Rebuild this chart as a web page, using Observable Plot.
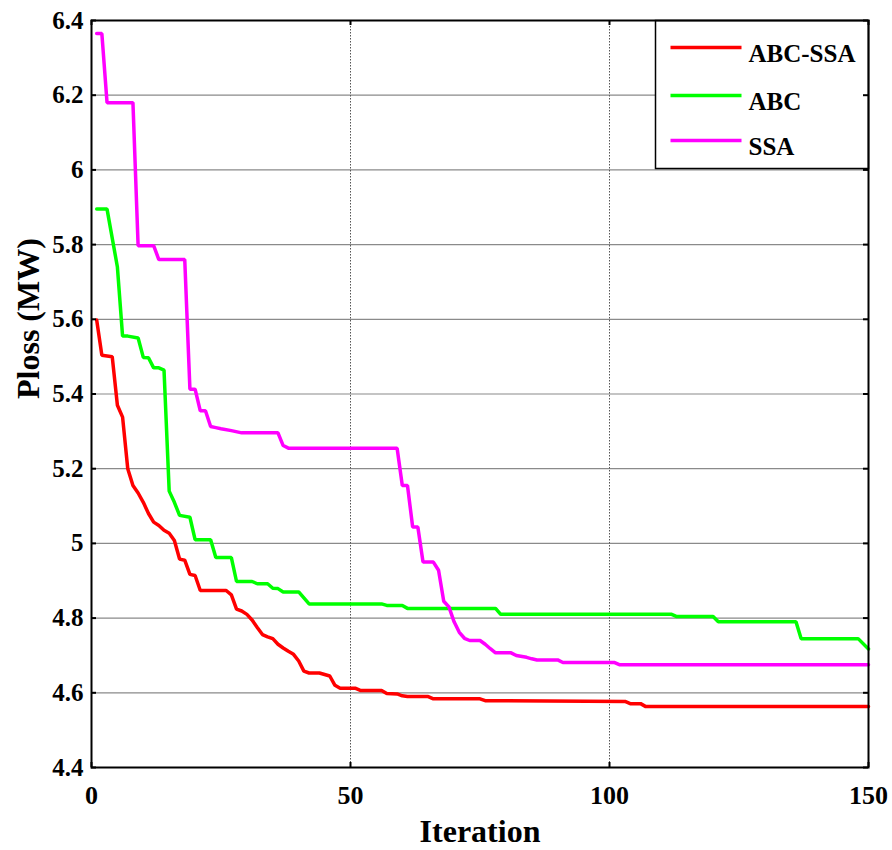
<!DOCTYPE html>
<html>
<head>
<meta charset="utf-8">
<script src="https://cdn.jsdelivr.net/npm/d3@7"></script>
<script src="https://cdn.jsdelivr.net/npm/@observablehq/plot@0.6"></script>
<style>
  body { margin: 0; background: #fff; }
  svg text { font-family: "Liberation Serif", "Times New Roman", "DejaVu Serif", serif !important; font-weight: bold; }
</style>
</head>
<body>
<div id="chart"></div>
<script>
// ---- data ----
const seriesNames = ["ABC-SSA", "ABC", "SSA"];
const seriesColors = ["#ff0000", "#00ff00", "#ff00ff"];

const abcSsaIter = [1,2,4,5,6,7,8,9,10,11,12,13,14,15,16,17,18,19,20,21,26,27,28,29,30,31,32,33,34,35,36,37,38,39,40,41,42,44,45,46,47,48,51,52,56,57,59,60,61,65,66,75,76,103,104,106,107,150];
const abcSsaLoss = [5.598,5.504,5.5,5.37,5.338,5.2,5.155,5.135,5.11,5.08,5.057,5.048,5.035,5.027,5.008,4.958,4.955,4.917,4.914,4.874,4.874,4.862,4.824,4.819,4.81,4.795,4.775,4.756,4.75,4.745,4.73,4.72,4.711,4.703,4.685,4.658,4.653,4.653,4.649,4.645,4.62,4.612,4.612,4.606,4.606,4.598,4.597,4.592,4.59,4.59,4.584,4.584,4.579,4.577,4.571,4.571,4.563,4.563];

const abcIter = [1,3,5,6,7,9,10,11,12,13,14,15,16,17,19,20,23,24,27,28,31,32,34,35,36,37,40,42,56,57,60,61,78,79,112,113,120,121,136,137,148,150];
const abcLoss = [5.895,5.895,5.74,5.555,5.555,5.55,5.498,5.497,5.47,5.47,5.464,5.14,5.11,5.075,5.07,5.01,5.01,4.962,4.962,4.898,4.898,4.892,4.892,4.88,4.879,4.87,4.87,4.838,4.838,4.834,4.834,4.826,4.826,4.81,4.81,4.804,4.804,4.79,4.79,4.745,4.745,4.717];

const ssaIter = [1,2,3,8,9,12,13,18,19,20,21,22,23,24,25,27,29,36,37,38,59,60,61,62,63,64,66,67,68,69,70,71,72,73,75,76,77,78,81,82,84,85,86,90,91,101,102,150];
const ssaLoss = [6.365,6.365,6.18,6.18,5.797,5.797,5.76,5.76,5.413,5.413,5.355,5.355,5.313,5.31,5.307,5.302,5.296,5.296,5.262,5.255,5.255,5.155,5.155,5.044,5.044,4.95,4.95,4.928,4.845,4.83,4.79,4.762,4.746,4.74,4.74,4.73,4.718,4.707,4.707,4.70,4.695,4.691,4.688,4.688,4.681,4.681,4.675,4.675];

const xTicks = [0, 50, 100, 150];
const yTicks = [4.4, 4.6, 4.8, 5, 5.2, 5.4, 5.6, 5.8, 6, 6.2, 6.4];
const xLabel = "Iteration";
const yLabel = "Ploss (MW)";

// ---- build tables ----
const seriesIters = [abcSsaIter, abcIter, ssaIter];
const seriesLosses = [abcSsaLoss, abcLoss, ssaLoss];
const tables = seriesIters.map((its, s) => its.map((it, i) => ({iter: it, loss: seriesLosses[s][i], name: seriesNames[s]})));

// ---- layout ----
const FONT = '"Liberation Serif", "Times New Roman", "DejaVu Serif", serif';
const W = 892, H = 850;
const mL = 91, mR = 24, mT = 20, mB = 83;
const pw = W - mL - mR, ph = H - mT - mB;

// legend geometry (pixels, relative to frame)
const legLeft = 655 - mL, legBottom = 767 - 168;
const legLineLeft = 670 - mL, legLineRight = (W - mR) - 741;
const legRows = [47, 95, 140].map(v => v - mT);
const legTextDx = 748 - mL;
const lineT = 3.5;

const legendMarks = [];
seriesNames.forEach((name, i) => {
  legendMarks.push(Plot.frame({
    fill: seriesColors[i], stroke: null,
    insetLeft: legLineLeft, insetRight: legLineRight,
    insetTop: legRows[i] - lineT / 2, insetBottom: ph - legRows[i] - lineT / 2
  }));
  legendMarks.push(Plot.text([name], {
    text: d => d, frameAnchor: "top-left", lineAnchor: "middle", dx: legTextDx, dy: legRows[i] + 6,
    textAnchor: "start", fontSize: 25, fontFamily: FONT, fontWeight: "bold", fill: "black"
  }));
});

const chart = Plot.plot({
  width: W, height: H,
  marginLeft: mL, marginRight: mR, marginTop: mT, marginBottom: mB,
  x: {domain: [0, 150]},
  y: {domain: [4.4, 6.4]},
  style: {fontFamily: FONT, fontWeight: "bold", background: "white", color: "black", overflow: "visible"},
  marks: [
    Plot.gridY(yTicks, {stroke: "#8a8a8a", strokeOpacity: 1, strokeWidth: 1.2}),
    Plot.gridX([50, 100], {stroke: "#555", strokeOpacity: 1, strokeDasharray: "1.5,1.5", strokeWidth: 1}),
    ...tables.map((t, i) => Plot.line(t, {x: "iter", y: "loss", stroke: seriesColors[i], strokeWidth: 3.5, strokeLinejoin: "miter"})),
    Plot.frame({fill: "white", stroke: "black", strokeWidth: 1.5, insetLeft: legLeft, insetBottom: legBottom}),
    ...legendMarks,
    Plot.frame({stroke: "black", strokeWidth: 2}),
    Plot.tickY(yTicks, {y: d => d, insetRight: pw - 5, stroke: "black", strokeWidth: 2}),
    Plot.tickY(yTicks, {y: d => d, insetLeft: pw - 5, stroke: "black", strokeWidth: 2}),
    Plot.tickX(xTicks, {x: d => d, insetTop: ph - 5, stroke: "black", strokeWidth: 2}),
    Plot.tickX(xTicks, {x: d => d, insetBottom: ph - 5, stroke: "black", strokeWidth: 2}),
    Plot.axisY(yTicks, {tickSize: 0, tickPadding: 8, fontSize: 25, fontFamily: FONT, fontWeight: "bold", label: null, tickFormat: d => String(d)}),
    Plot.axisX(xTicks, {tickSize: 0, tickPadding: 18, fontSize: 26, fontFamily: FONT, fontWeight: "bold", label: null}),
    Plot.text([yLabel], {text: d => d, frameAnchor: "left", lineAnchor: "middle", rotate: -90, dx: -63, dy: 5, fontSize: 32, fontFamily: FONT, fontWeight: "bold", fill: "black"}),
    Plot.text([xLabel], {text: d => d, frameAnchor: "bottom", lineAnchor: "middle", dy: 64, fontSize: 32, fontFamily: FONT, fontWeight: "bold", fill: "black"})
  ]
});
document.getElementById("chart").appendChild(chart);
</script>
</body>
</html>
